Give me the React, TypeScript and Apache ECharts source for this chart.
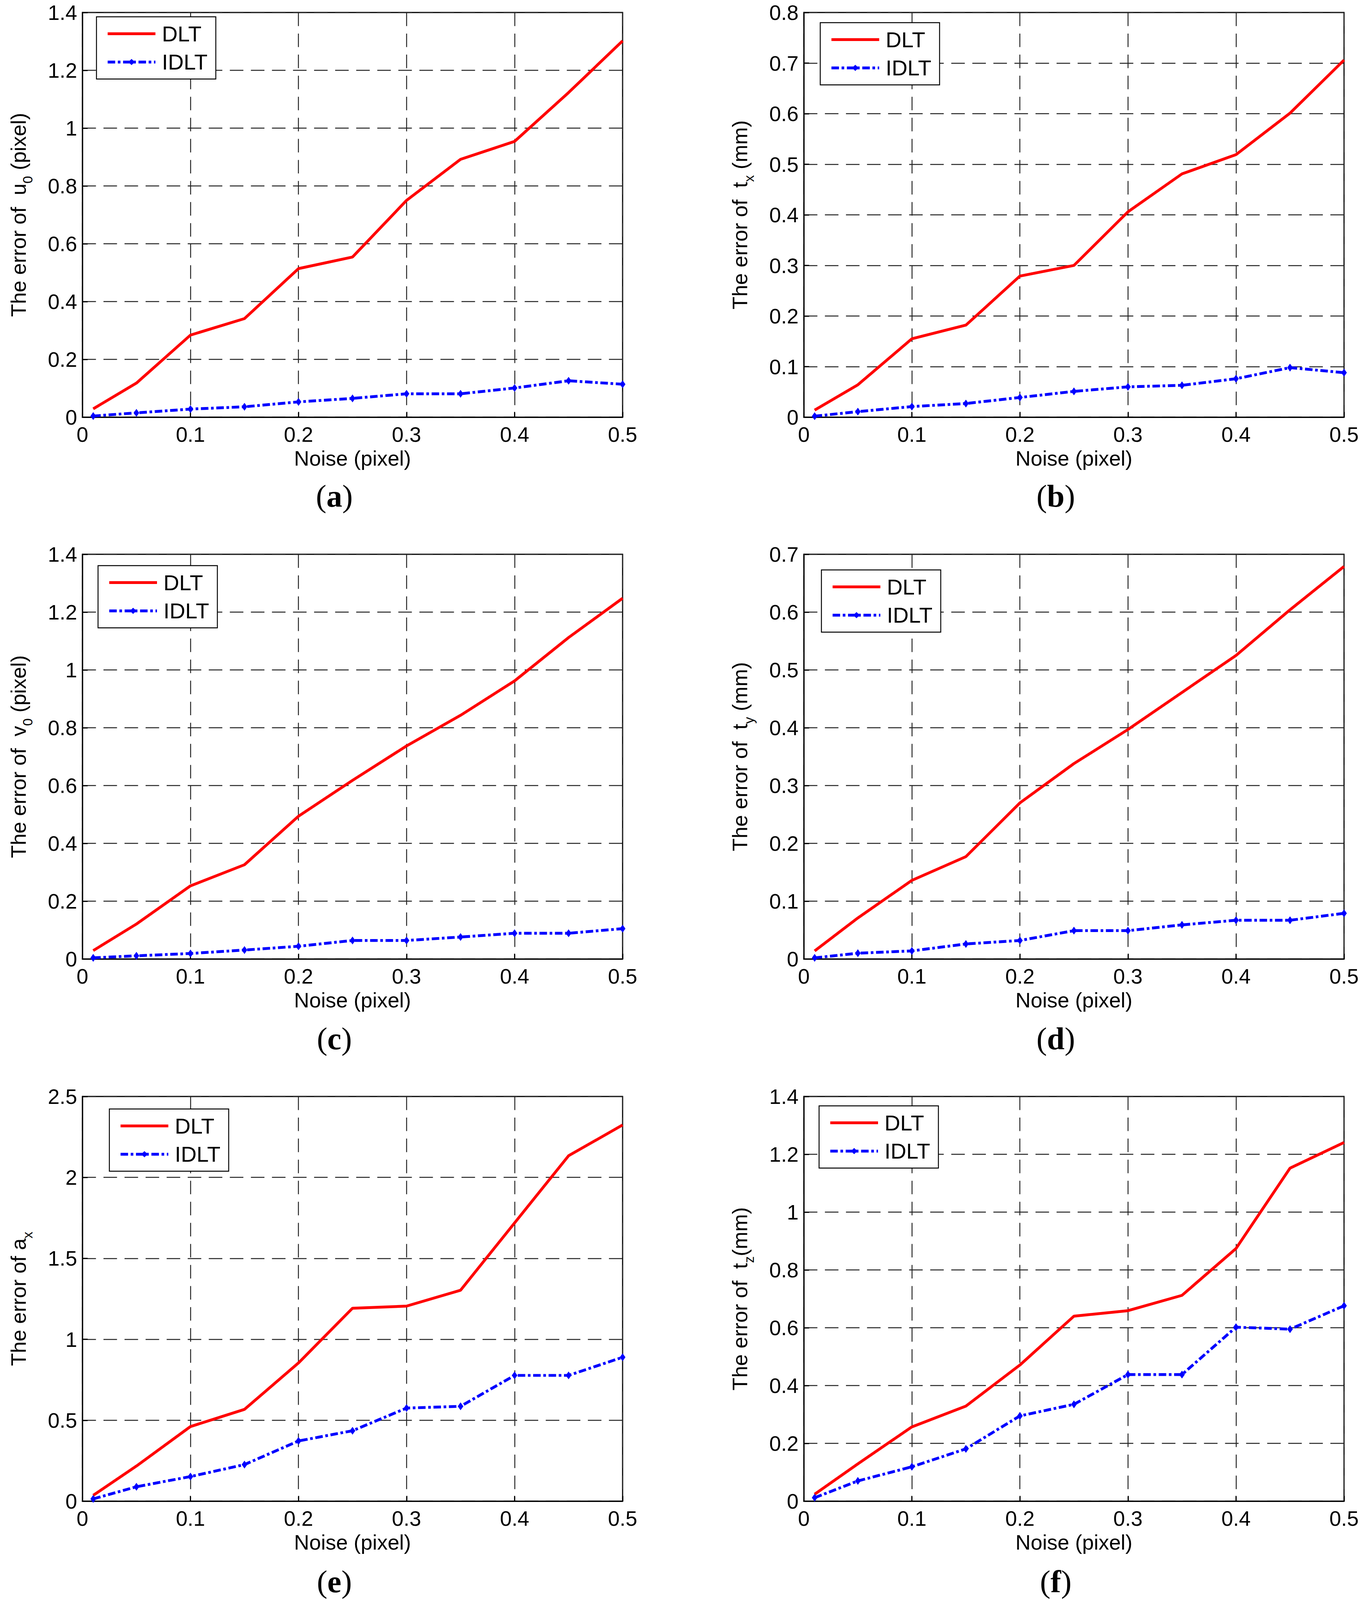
import React, { useEffect, useRef } from "react";
import * as echarts from "echarts";

// ---- data ----
const noise = [0.01, 0.05, 0.1, 0.15, 0.2, 0.25, 0.3, 0.35, 0.4, 0.45, 0.5];
const seriesNames = ["DLT", "IDLT"];

const dltU0 = [0.029, 0.118, 0.284, 0.341, 0.514, 0.554, 0.75, 0.892, 0.954, 1.123, 1.302];
const idltU0 = [0.004, 0.015, 0.028, 0.036, 0.053, 0.065, 0.081, 0.081, 0.101, 0.126, 0.114];
const dltTx = [0.014, 0.064, 0.155, 0.182, 0.279, 0.3, 0.406, 0.481, 0.519, 0.601, 0.706];
const idltTx = [0.002, 0.011, 0.021, 0.027, 0.039, 0.051, 0.06, 0.063, 0.076, 0.098, 0.088];
const dltV0 = [0.029, 0.121, 0.253, 0.326, 0.494, 0.618, 0.737, 0.843, 0.962, 1.112, 1.248];
const idltV0 = [0.004, 0.011, 0.019, 0.031, 0.044, 0.064, 0.064, 0.076, 0.089, 0.089, 0.105];
const dltTy = [0.014, 0.071, 0.136, 0.177, 0.27, 0.338, 0.397, 0.461, 0.525, 0.604, 0.679];
const idltTy = [0.002, 0.01, 0.014, 0.026, 0.032, 0.049, 0.049, 0.059, 0.067, 0.067, 0.079];
const dltAx = [0.036, 0.217, 0.461, 0.567, 0.854, 1.192, 1.205, 1.303, 1.719, 2.134, 2.324];
const idltAx = [0.014, 0.089, 0.152, 0.226, 0.372, 0.435, 0.575, 0.586, 0.777, 0.777, 0.889];
const dltTz = [0.024, 0.129, 0.257, 0.329, 0.471, 0.64, 0.659, 0.712, 0.874, 1.152, 1.241];
const idltTz = [0.012, 0.07, 0.119, 0.181, 0.295, 0.335, 0.438, 0.438, 0.602, 0.595, 0.676];

const xMax = 0.5;
const xStep = 0.1;
const yMax = [1.4, 0.8, 1.4, 0.7, 2.5, 1.4];
const yStep = [0.2, 0.1, 0.2, 0.1, 0.5, 0.2];
const panelLetters = ["a", "b", "c", "d", "e", "f"];
const xName = "Noise (pixel)";
const yNames = [
  "{n|The error of  u}{s|0}{n| (pixel)}",
  "{n|The error of  t}{s|x}{n| (mm)}",
  "{n|The error of  v}{s|0}{n| (pixel)}",
  "{n|The error of  t}{s|y}{n| (mm)}",
  "{n|The error of a}{s|x}",
  "{n|The error of  t}{s|z}{n|(mm)}",
];
const dltData = [dltU0, dltTx, dltV0, dltTy, dltAx, dltTz];
const idltData = [idltU0, idltTx, idltV0, idltTy, idltAx, idltTz];

// ---- layout (reference pixels, scaled to the viewport) ----
const REF_W = 3487;
const REF_H = 4254;
const colLeft = [211, 2058];
const rowTop = [33, 1474, 2915];
const plotW = 1383;
const plotH = 1076;
const legendPos = [
  [247, 45],
  [2100, 60],
  [251, 1504],
  [2103, 1515],
  [280, 2948],
  [2097, 2940],
];
const captionX = [856, 2703];
const captionY = [1318, 2761, 4204];

const FONT = "'Liberation Sans', Arial, Helvetica, sans-serif";
const SERIF = "'Liberation Serif', 'Times New Roman', serif";

function buildOption(sx: number, sy: number) {
  const f = sy; // font / stroke scale
  const X = (v: number) => Math.round(v * sx);
  const Y = (v: number) => Math.round(v * sy);
  const grids: any[] = [];
  const xAxes: any[] = [];
  const yAxes: any[] = [];
  const series: any[] = [];
  const legends: any[] = [];
  const graphics: any[] = [];
  const fs = 56 * f;
  const lw = 7.5 * f;
  const dashDot = [20 * f, 7 * f, 7 * f, 7 * f];

  for (let p = 0; p < 6; p++) {
    const col = p % 2;
    const row = Math.floor(p / 2);
    grids.push({
      left: X(colLeft[col]),
      top: Y(rowTop[row]),
      width: X(plotW),
      height: Y(plotH),
      show: true,
      borderColor: "#000",
      borderWidth: 3 * f,
      backgroundColor: "#fff",
    });
    const splitLine = {
      show: true,
      lineStyle: { color: "#222", width: 2.5 * f, type: [36 * f, 20 * f] },
    };
    xAxes.push({
      type: "value",
      gridIndex: p,
      min: 0,
      max: xMax,
      interval: xStep,
      name: xName,
      nameLocation: "middle",
      nameGap: 81 * f,
      nameTextStyle: { fontFamily: FONT, fontSize: fs, color: "#000" },
      axisLine: { show: true, lineStyle: { color: "#000", width: 3 * f } },
      axisTick: { show: true, inside: true, length: 14 * f, lineStyle: { color: "#000", width: 3 * f } },
      axisLabel: { fontFamily: FONT, fontSize: fs, color: "#000", margin: 18 * f },
      splitLine,
    });
    yAxes.push({
      type: "value",
      gridIndex: p,
      min: 0,
      max: yMax[p],
      interval: yStep[p],
      name: yNames[p],
      nameLocation: "middle",
      nameRotate: 90,
      nameGap: 127 * f,
      nameTextStyle: {
        color: "#000",
        rich: {
          n: { fontFamily: FONT, fontSize: fs, color: "#000" },
          s: { fontFamily: FONT, fontSize: 36 * f, color: "#000", padding: [50 * f, 0, 0, 0] },
        },
      },
      axisLine: { show: true, lineStyle: { color: "#000", width: 3 * f } },
      axisTick: { show: true, inside: true, length: 14 * f, lineStyle: { color: "#000", width: 3 * f } },
      axisLabel: { fontFamily: FONT, fontSize: fs, color: "#000", margin: 14 * f },
      splitLine,
    });
    series.push({
      type: "line",
      name: seriesNames[0],
      xAxisIndex: p,
      yAxisIndex: p,
      data: noise.map((x, i) => [x, dltData[p][i]]),
      symbol: "none",
      lineStyle: { color: "#ff0000", width: lw },
      itemStyle: { color: "#ff0000" },
      z: 3,
    });
    series.push({
      type: "line",
      name: seriesNames[1],
      xAxisIndex: p,
      yAxisIndex: p,
      data: noise.map((x, i) => [x, idltData[p][i]]),
      symbol: "diamond",
      symbolSize: [15 * f, 21 * f],
      showSymbol: true,
      lineStyle: { color: "#0000ff", width: lw, type: dashDot },
      itemStyle: { color: "#0000ff" },
      z: 4,
    });
    legends.push({
      orient: "vertical",
      left: X(legendPos[p][0]),
      top: Y(legendPos[p][1]),
      itemWidth: 127 * f,
      itemHeight: 21 * f,
      itemGap: 17 * f,
      padding: [16 * f, 22 * f, 16 * f, 26 * f],
      backgroundColor: "#fff",
      borderColor: "#000",
      borderWidth: 2.5 * f,
      selectedMode: false,
      textStyle: { fontFamily: FONT, fontSize: 58 * f, color: "#000", padding: [0, 0, 0, 12 * f] },
      data: [
        { name: seriesNames[0], icon: "path://M0,0H127V7.5H0Z" },
        {
          name: seriesNames[1],
          lineStyle: { width: lw, color: "#0000ff", type: dashDot },
          itemStyle: { color: "#0000ff" },
        },
      ],
    });
    graphics.push({
      type: "text",
      x: X(captionX[col]),
      y: Y(captionY[row]),
      style: {
        text: "{p|(}{b|" + panelLetters[p] + "}{p|)}",
        align: "center",
        verticalAlign: "middle",
        rich: {
          p: { fontFamily: SERIF, fontSize: 84 * f, fill: "#000" },
          b: { fontFamily: SERIF, fontSize: 84 * f, fontWeight: "bold", fill: "#000" },
        },
      },
    });
  }

  return {
    animation: false,
    backgroundColor: "#fff",
    grid: grids,
    xAxis: xAxes,
    yAxis: yAxes,
    legend: legends,
    series,
    graphic: graphics,
  };
}

export default function App() {
  const ref = useRef<HTMLDivElement>(null);
  const vw = (typeof window !== "undefined" && window.innerWidth) || REF_W;
  const vh = (typeof window !== "undefined" && window.innerHeight) || REF_H;
  useEffect(() => {
    if (!ref.current) return;
    const chart = echarts.init(ref.current, null, { renderer: "svg" });
    chart.setOption(buildOption(vw / REF_W, vh / REF_H) as any);
    return () => chart.dispose();
  }, []);
  return (
    <div
      ref={ref}
      style={{ position: "fixed", left: 0, top: 0, width: vw, height: vh, background: "#fff" }}
    />
  );
}
